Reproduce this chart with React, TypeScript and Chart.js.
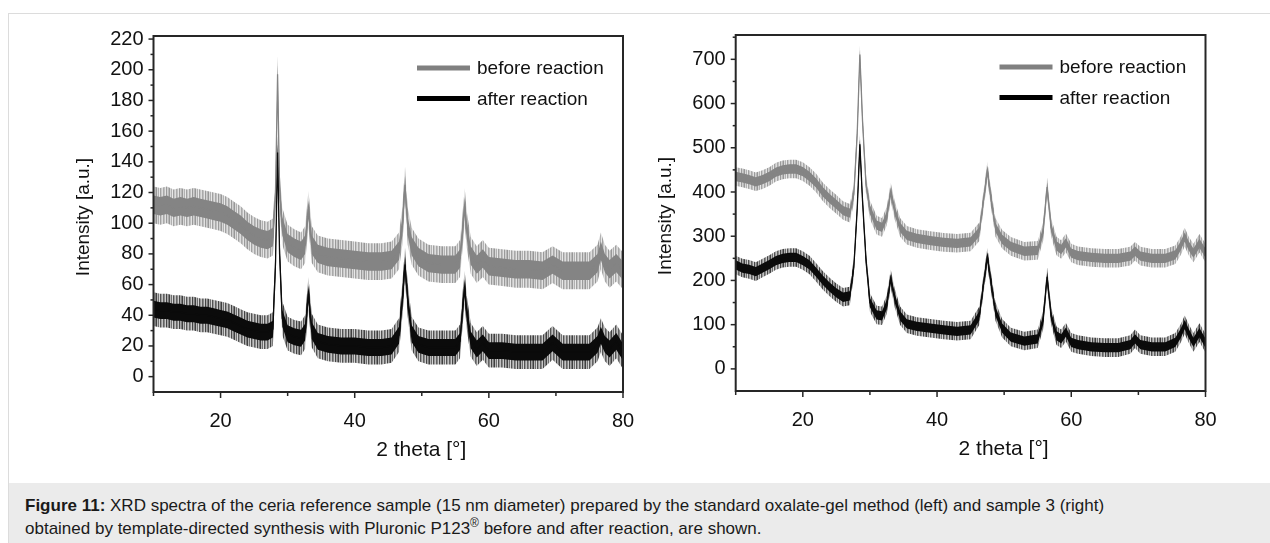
import React, { useEffect, useRef } from "react";
import { Chart, registerables } from "chart.js";

Chart.register(...registerables);

const FONT = '"Liberation Sans", Arial, Helvetica, sans-serif';

// Series names and colours
const seriesLabels = ["before reaction", "after reaction"];
const beforeCore = "#848484";
const beforeFringeRgb = "125,125,125";
const afterCore = "#0b0b0b";
const afterFringeRgb = "15,15,15";
// Column opacities of the hairline texture used for the noise fringe
const fringeAlphas = [0.8, 0.3, 0.6, 0.18, 0.72, 0.42, 0.26, 0.66, 0.5, 0.22, 0.78, 0.36, 0.55];

// Axis text
const xTitle = "2 theta [°]";
const yTitle = "Intensity [a.u.]";
const xTickLabels = [20, 40, 60, 80];
const leftYTickLabels = [0, 20, 40, 60, 80, 100, 120, 140, 160, 180, 200, 220];
const rightYTickLabels = [0, 100, 200, 300, 400, 500, 600, 700];

// Ceria reference sample (oxalate-gel): 2θ [°] and intensity [a.u.]
const thetaLeft = [
  10, 11, 12, 13, 14, 15, 16, 17, 18, 19, 20, 21, 22, 23, 24, 25, 26, 27,
  27.8, 28.2, 28.5, 28.8, 29.2, 30, 31, 32, 32.6, 33.1, 33.6, 34.5, 36, 38, 40, 42, 44,
  45.5, 46.6, 47.1, 47.5, 47.9, 48.5, 49.5, 51, 53, 55, 55.7, 56.1, 56.4, 56.7, 57.3,
  58.2, 59.1, 60, 62, 64, 66, 68, 69.5, 71, 73, 75, 76.2, 76.7, 77.3, 78, 79, 80,
];
const beforeLeft = [
  112, 111, 112, 110, 111, 110, 111, 110, 109, 108, 107, 105, 102, 99, 95, 92, 90, 89,
  91, 120, 197, 122, 98, 87, 84, 82, 86, 109, 86, 80, 78, 77, 76, 75, 75,
  76, 82, 98, 125, 98, 85, 78, 74, 73, 73, 77, 96, 111, 96, 79,
  73, 77, 72, 71, 70, 70, 69, 73, 69, 69, 69, 74, 82, 74, 70, 74, 69,
];
const afterLeft = [
  44, 43, 43, 42, 42, 41, 41, 40, 40, 39, 38, 37, 35, 33, 31, 30, 29, 29,
  31, 75, 146, 80, 38, 28, 26, 25, 29, 54, 30, 23, 21, 20, 20, 19, 19,
  20, 27, 50, 73, 50, 28, 21, 19, 19, 19, 23, 45, 58, 42, 24,
  18, 22, 17, 17, 16, 16, 16, 22, 16, 16, 16, 21, 27, 21, 18, 23, 16,
];

// Sample 3 (Pluronic P123 template): 2θ [°] and intensity [a.u.]
const thetaRight = [
  10, 11, 12, 13, 14, 15, 16, 17, 18, 19, 20, 21, 22, 23, 24, 25, 26, 27,
  27.6, 28.1, 28.5, 28.9, 29.4, 30, 31, 31.8, 32.5, 33.1, 33.7, 34.5, 35.5, 37, 39, 41, 43, 45,
  46.3, 47, 47.5, 48, 48.7, 49.7, 51, 53, 55, 55.8, 56.4, 57, 57.8, 58.5, 59.2, 60, 61,
  63, 65, 67, 68.8, 69.5, 70.3, 72, 74, 75.5, 76.3, 76.9, 77.5, 78.2, 79.1, 80,
];
const beforeRight = [
  435, 432, 428, 423, 428, 435, 445, 450, 452, 452, 446, 435, 420, 400, 385, 372, 358, 352,
  395, 530, 711, 560, 420, 360, 325, 320, 345, 400, 358, 320, 302, 295, 290, 286, 284, 287,
  310, 390, 448, 390, 320, 293, 277, 266, 268, 310, 411, 320, 278, 270, 285, 262, 256,
  252, 250, 250, 255, 266, 255, 250, 250, 258, 278, 298, 278, 262, 284, 262,
];
const afterRight = [
  235, 228, 225, 220, 228, 236, 245, 250, 252, 252, 245, 235, 218, 200, 185, 172, 162, 165,
  230, 360, 508, 380, 250, 150, 122, 120, 145, 204, 160, 120, 102, 96, 92, 88, 85, 88,
  120, 200, 253, 200, 130, 92, 72, 63, 68, 110, 208, 120, 75, 68, 83, 60, 55,
  50, 48, 48, 55, 68, 55, 50, 50, 60, 80, 100, 80, 60, 82, 58,
];

// Half-width of the counting-noise band around each scan
const noiseBeforeLeft = 12;
const noiseAfterLeft = 11;
const noiseBeforeRight = 21;
const noiseAfterRight = 21;

const INNER = 0.5;

// Vertical hairline texture for the noise fringe
function hairlines(rgb: string): CanvasPattern | string {
  const fallback = `rgba(${rgb},0.5)`;
  const c = document.createElement("canvas");
  c.width = fringeAlphas.length;
  c.height = 1;
  const g = c.getContext("2d");
  if (!g) return fallback;
  fringeAlphas.forEach((al, i) => {
    g.fillStyle = `rgba(${rgb},${al})`;
    g.fillRect(i, 0, 1, 1);
  });
  return g.createPattern(c, "repeat") || fallback;
}

function scanDatasets(theta: number[], values: number[], noise: number, core: string, fringeRgb: string) {
  const pts = (k: number) => theta.map((x, i) => ({ x, y: values[i] + k * noise }));
  const base = { pointRadius: 0, tension: 0, borderColor: "rgba(0,0,0,0)", borderWidth: 1 };
  return [
    { ...base, data: pts(0), borderColor: core, borderWidth: 1.3, fill: false },
    { ...base, data: pts(INNER), backgroundColor: core, fill: "+1" },
    { ...base, data: pts(-INNER), fill: false },
    { ...base, data: pts(1), backgroundColor: hairlines(fringeRgb), fill: "+1" },
    { ...base, data: pts(-1), fill: false },
  ];
}

// Frame, outward tick marks, axis titles and the in-plot legend
const decorPlugin = {
  id: "decor",
  afterDraw(chart: any) {
    const { ctx, chartArea: a, scales } = chart;
    ctx.save();
    ctx.strokeStyle = "#262626";
    ctx.lineWidth = 1.5;
    const xs = scales.x;
    const ys = scales.y;
    xs.ticks.forEach((t: any) => {
      const px = xs.getPixelForValue(t.value);
      const len = t.label !== "" ? 6 : 4;
      ctx.beginPath();
      ctx.moveTo(px, a.bottom);
      ctx.lineTo(px, a.bottom + len);
      ctx.stroke();
    });
    ys.ticks.forEach((t: any) => {
      if (t.value <= ys.min) return;
      const py = ys.getPixelForValue(t.value);
      const len = t.label !== "" ? 5 : 3;
      ctx.beginPath();
      ctx.moveTo(a.left, py);
      ctx.lineTo(a.left - len, py);
      ctx.stroke();
    });
    ctx.lineWidth = 2;
    ctx.strokeRect(a.left, a.top, a.right - a.left, a.bottom - a.top);

    ctx.fillStyle = "#111";
    ctx.font = `21px ${FONT}`;
    ctx.textAlign = "center";
    ctx.textBaseline = "alphabetic";
    ctx.fillText(xTitle, (a.left + a.right) / 2 + 33, a.bottom + 64);

    ctx.save();
    ctx.translate(a.left - 70, (a.top + a.bottom) / 2 + 3);
    ctx.rotate(-Math.PI / 2);
    ctx.font = `19px ${FONT}`;
    ctx.textBaseline = "middle";
    ctx.fillText(yTitle, 0, 0);
    ctx.restore();

    ctx.font = `19px ${FONT}`;
    ctx.textAlign = "left";
    seriesLabels.forEach((label, i) => {
      const y = a.top + 32 + i * 30.5;
      ctx.strokeStyle = i === 0 ? "#808080" : "#000";
      ctx.lineWidth = 5;
      ctx.beginPath();
      ctx.moveTo(a.right - 206, y);
      ctx.lineTo(a.right - 153, y);
      ctx.stroke();
      ctx.fillStyle = "#111";
      ctx.fillText(label, a.right - 146, y + 6);
    });
    ctx.restore();
  },
};

function makeConfig(
  theta: number[], before: number[], after: number[],
  nBefore: number, nAfter: number,
  yMin: number, yMax: number, yStep: number, yLabels: number[],
  pad: { top: number; right: number }, yWidth: number, xHeight: number
): any {
  const tickFont = { family: FONT, size: 20 };
  return {
    type: "line",
    data: {
      datasets: [
        ...scanDatasets(theta, after, nAfter, afterCore, afterFringeRgb),
        ...scanDatasets(theta, before, nBefore, beforeCore, beforeFringeRgb),
      ],
    },
    options: {
      animation: false,
      responsive: false,
      events: [],
      layout: { padding: { left: 0, top: pad.top, right: pad.right, bottom: 0 } },
      plugins: { legend: { display: false }, tooltip: { enabled: false }, filler: { propagate: false } },
      scales: {
        x: {
          type: "linear",
          min: 10,
          max: 80,
          grid: { display: false, drawTicks: false },
          border: { display: false },
          ticks: {
            stepSize: 10,
            autoSkip: false,
            maxRotation: 0,
            includeBounds: false,
            padding: 17,
            color: "#111",
            font: tickFont,
            callback: (v: number) => (xTickLabels.includes(v) ? String(v) : ""),
          },
          afterFit: (s: any) => {
            s.height = xHeight;
            s.paddingLeft = 0;
            s.paddingRight = 0;
          },
        },
        y: {
          type: "linear",
          min: yMin,
          max: yMax,
          grid: { display: false, drawTicks: false },
          border: { display: false },
          ticks: {
            stepSize: yStep,
            autoSkip: false,
            includeBounds: false,
            padding: 10,
            color: "#111",
            font: tickFont,
            callback: (v: number) => (yLabels.includes(v) ? String(v) : ""),
          },
          afterFit: (s: any) => {
            s.width = yWidth;
            s.paddingTop = 0;
            s.paddingBottom = 0;
          },
        },
      },
    },
    plugins: [decorPlugin],
  };
}

function XrdChart(props: { config: any; left: number; width: number }) {
  const ref = useRef<HTMLCanvasElement | null>(null);
  useEffect(() => {
    if (!ref.current) return;
    const chart = new Chart(ref.current, props.config);
    return () => chart.destroy();
  }, []);
  return (
    <canvas
      ref={ref}
      width={props.width}
      height={483}
      style={{ position: "absolute", left: props.left, top: 0, width: props.width, height: 483 }}
    />
  );
}

export default function App() {
  useEffect(() => {
    document.documentElement.style.overflow = "hidden";
    document.body.style.overflow = "hidden";
  }, []);

  const leftConfig = makeConfig(
    thetaLeft, beforeLeft, afterLeft, noiseBeforeLeft, noiseAfterLeft,
    -10, 222, 10, leftYTickLabels, { top: 36, right: 17 }, 153.5, 91
  );
  const rightConfig = makeConfig(
    thetaRight, beforeRight, afterRight, noiseBeforeRight, noiseAfterRight,
    -50, 755, 50, rightYTickLabels, { top: 35, right: 64.5 }, 95.7, 92
  );

  return (
    <div style={{ position: "absolute", left: 0, top: 0, width: 1270, height: 543, overflow: "hidden" }}>
      <div
        style={{
          position: "absolute",
          left: 8,
          top: 13,
          width: 1270,
          height: 540,
          borderLeft: "1px solid #dcdcdc",
          borderTop: "1px solid #dcdcdc",
          background: "#fff",
        }}
      />
      <XrdChart config={leftConfig} left={0} width={640} />
      <XrdChart config={rightConfig} left={640} width={630} />
      <div
        style={{
          position: "absolute",
          left: 9,
          top: 483,
          width: 1261,
          height: 60,
          boxSizing: "border-box",
          background: "#ebebeb",
          paddingTop: 10.5,
          paddingLeft: 16,
          fontFamily: FONT,
          fontSize: 17,
          lineHeight: "23.5px",
          color: "#1a1a1a",
          whiteSpace: "nowrap",
        }}
      >
        <div>
          <b>Figure 11:</b> XRD spectra of the ceria reference sample (15 nm diameter) prepared by the standard
          oxalate-gel method (left) and sample 3 (right)
        </div>
        <div>
          obtained by template-directed synthesis with Pluronic P123
          <sup style={{ fontSize: 12, lineHeight: 0 }}>®</sup> before and after reaction, are shown.
        </div>
      </div>
    </div>
  );
}
